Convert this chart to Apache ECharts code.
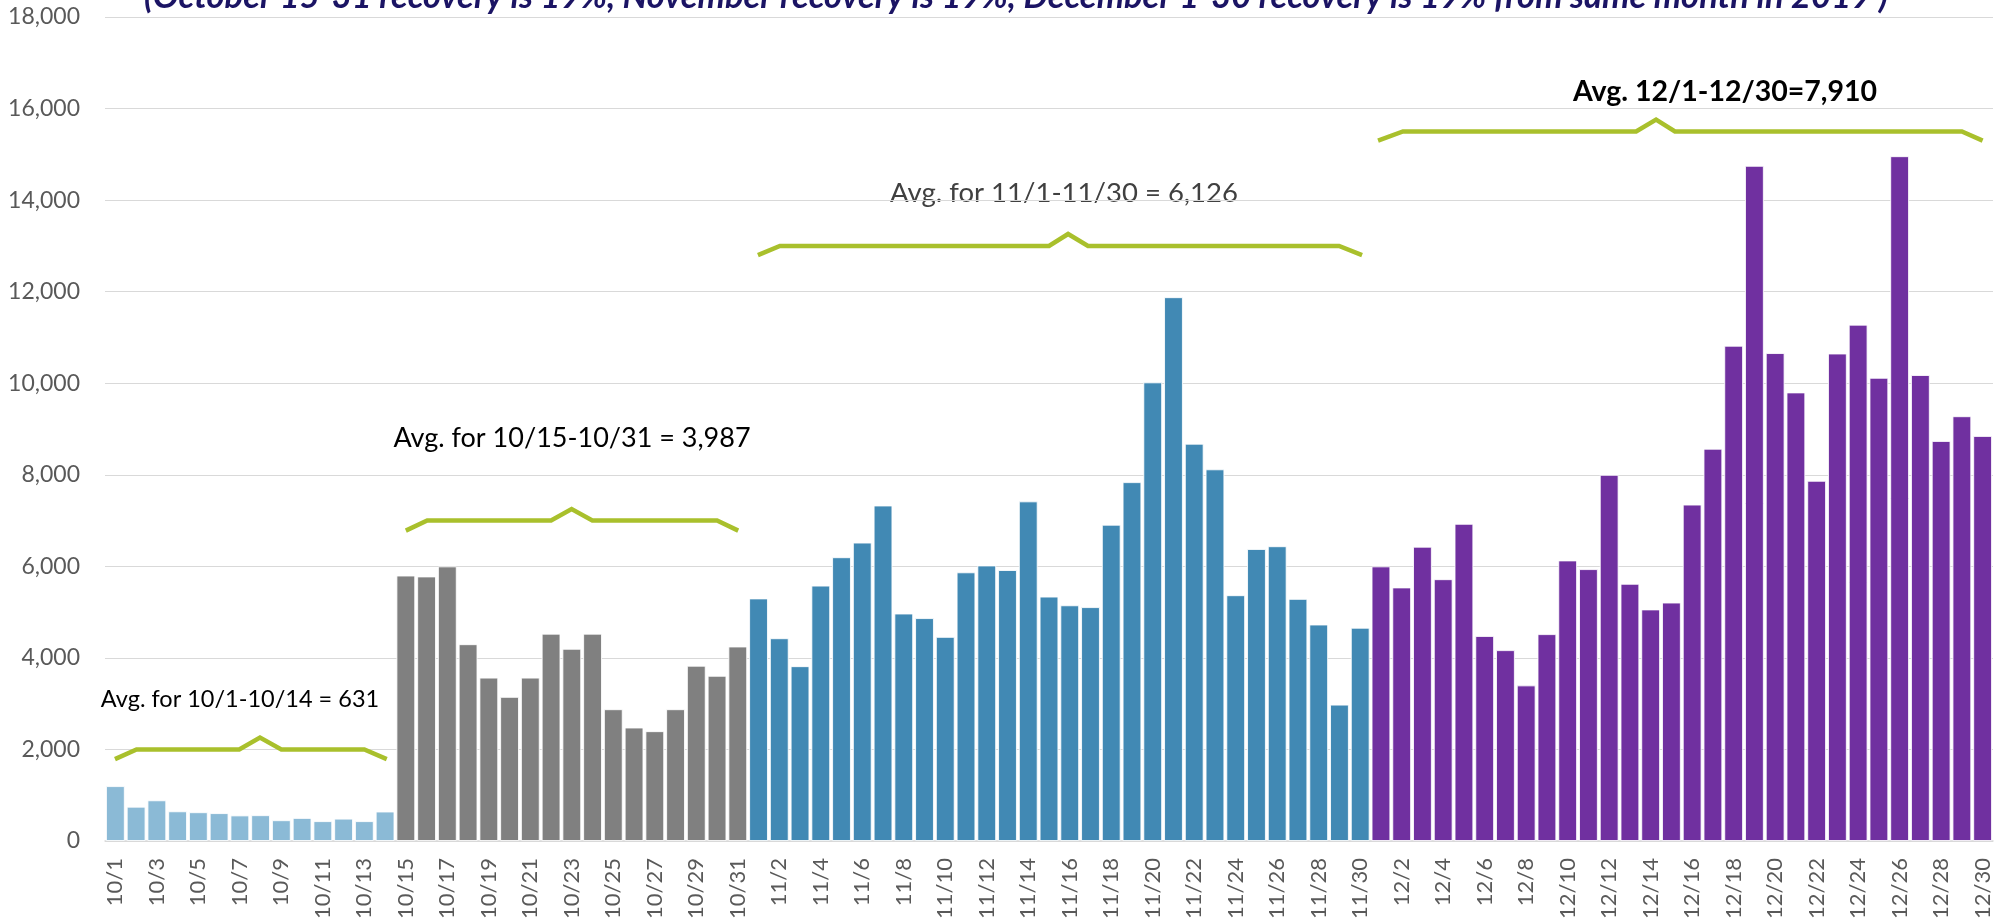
<!DOCTYPE html>
<html>
<head>
<meta charset="utf-8">
<script src="https://cdn.jsdelivr.net/npm/echarts@6/dist/echarts.min.js"></script>
<style>
  html, body { margin: 0; padding: 0; background: #fff; }
  #chart { width: 2004px; height: 922px; }
</style>
</head>
<body>
<div id="chart"></div>
<script>
// day labels, 10/1 .. 12/30
var days = [
  '10/1','10/2','10/3','10/4','10/5','10/6','10/7','10/8','10/9','10/10','10/11','10/12','10/13','10/14',
  '10/15','10/16','10/17','10/18','10/19','10/20','10/21','10/22','10/23','10/24','10/25','10/26','10/27','10/28','10/29','10/30','10/31',
  '11/1','11/2','11/3','11/4','11/5','11/6','11/7','11/8','11/9','11/10','11/11','11/12','11/13','11/14','11/15',
  '11/16','11/17','11/18','11/19','11/20','11/21','11/22','11/23','11/24','11/25','11/26','11/27','11/28','11/29','11/30',
  '12/1','12/2','12/3','12/4','12/5','12/6','12/7','12/8','12/9','12/10','12/11','12/12','12/13','12/14','12/15',
  '12/16','12/17','12/18','12/19','12/20','12/21','12/22','12/23','12/24','12/25','12/26','12/27','12/28','12/29','12/30'
];

var oct1to14 = [1200, 750, 890, 650, 630, 610, 560, 565, 455, 505, 435, 490, 435, 645];
var oct15to31 = [5800, 5780, 6000, 4300, 3570, 3150, 3570, 4530, 4200, 4530, 2880, 2480, 2400, 2880, 3830, 3610, 4250];
var novValues = [5300, 4430, 3820, 5580, 6200, 6520, 7330, 4970, 4870, 4460, 5870, 6020, 5920, 7420, 5340,
                 5150, 5110, 6910, 7840, 10020, 11880, 8680, 8120, 5370, 6380, 6440, 5290, 4730, 2980, 4660];
var decValues = [6000, 5540, 6430, 5720, 6930, 4480, 4170, 3400, 4520, 6130, 5940, 8000, 5620, 5060, 5210,
                 7350, 8570, 10820, 14750, 10660, 9800, 7870, 10650, 11280, 10120, 14960, 10180, 8740, 9280, 8850];

var groupColors = ['#8bbad6', '#808080', '#4189b4', '#7030a0'];

// bracket outlines, x in category units (0..91), y in axis values
var bracketOct1 = [[0.48, 1790], [1.52, 2000], [6.47, 2000], [7.47, 2260], [8.5, 2000], [12.5, 2000], [13.58, 1790]];
var bracketOct15 = [[14.5, 6780], [15.53, 7000], [21.5, 7000], [22.49, 7250], [23.49, 7000], [29.5, 7000], [30.52, 6780]];
var bracketNov = [[31.47, 12800], [32.53, 13000], [45.5, 13000], [46.42, 13260], [47.38, 13000], [59.48, 13000], [60.59, 12800]];
var bracketDec = [[61.36, 15300], [62.56, 15500], [73.8, 15500], [74.76, 15760], [75.67, 15500], [89.5, 15500], [90.5, 15300]];

var titleText = '(October 15-31 recovery is 19%, November recovery is 19%, December 1-30 recovery is 19% from same month in 2019 )';

var groups = [oct1to14, oct15to31, novValues, decValues];
var values = [];
var colorIdx = [];
for (var g = 0; g < groups.length; g++) {
  for (var k = 0; k < groups[g].length; k++) {
    values.push(groups[g][k]);
    colorIdx.push(g);
  }
}

var chart = echarts.init(document.getElementById('chart'));

function bracket(data) {
  return {
    type: 'line',
    xAxisIndex: 1,
    data: data,
    symbol: 'none',
    silent: true,
    animation: false,
    lineStyle: { color: '#a9c02c', width: 4.5, join: 'miter' },
    z: 5
  };
}

var font = 'Lato';

chart.setOption({
  animation: false,
  grid: { left: 105, right: 11, top: 17, bottom: 75, containLabel: false },
  xAxis: [{
    type: 'category',
    data: days,
    axisTick: { show: false },
    axisLine: { lineStyle: { color: '#d9d9d9', width: 1.5 } },
    axisLabel: {
      interval: 1,
      rotate: 90,
      margin: 17,
      fontSize: 22,
      fontFamily: font,
      color: '#595959'
    }
  }, {
    type: 'value',
    min: 0,
    max: 91,
    show: false
  }],
  yAxis: {
    type: 'value',
    min: 0,
    max: 18000,
    interval: 2000,
    axisLine: { show: false },
    axisTick: { show: false },
    splitLine: { lineStyle: { color: '#d9d9d9', width: 1.2 } },
    axisLabel: {
      margin: 25,
      fontSize: 23,
      fontFamily: font,
      color: '#595959',
      formatter: function (v) { return v.toLocaleString('en-US'); }
    }
  },
  series: [{
    type: 'bar',
    data: values,
    barCategoryGap: '9%',
    itemStyle: {
      color: function (p) { return groupColors[colorIdx[p.dataIndex]]; },
      borderColor: 'rgba(255,255,255,0.85)',
      borderWidth: 1
    }
  },
  bracket(bracketOct1),
  bracket(bracketOct15),
  bracket(bracketNov),
  bracket(bracketDec)
  ],
  graphic: [
    { type: 'text', x: 1016, y: -3, style: { text: titleText, font: 'italic bold 34.5px ' + font, fill: '#1b1464', align: 'center', verticalAlign: 'middle' } },
    { type: 'text', x: 240, y: 699, style: { text: 'Avg. for 10/1-10/14 = 631', font: '23.5px ' + font, fill: '#000', align: 'center', verticalAlign: 'middle' } },
    { type: 'text', x: 572, y: 438, style: { text: 'Avg. for 10/15-10/31 = 3,987', font: '27px ' + font, fill: '#000', align: 'center', verticalAlign: 'middle' } },
    { type: 'text', x: 1064, y: 193, style: { text: 'Avg. for 11/1-11/30 = 6,126', font: '27.5px ' + font, fill: '#404040', align: 'center', verticalAlign: 'middle' } },
    { type: 'text', x: 1725, y: 92, style: { text: 'Avg. 12/1-12/30=7,910', font: 'bold 28.5px ' + font, fill: '#000', align: 'center', verticalAlign: 'middle' } }
  ]
});
</script>
</body>
</html>
